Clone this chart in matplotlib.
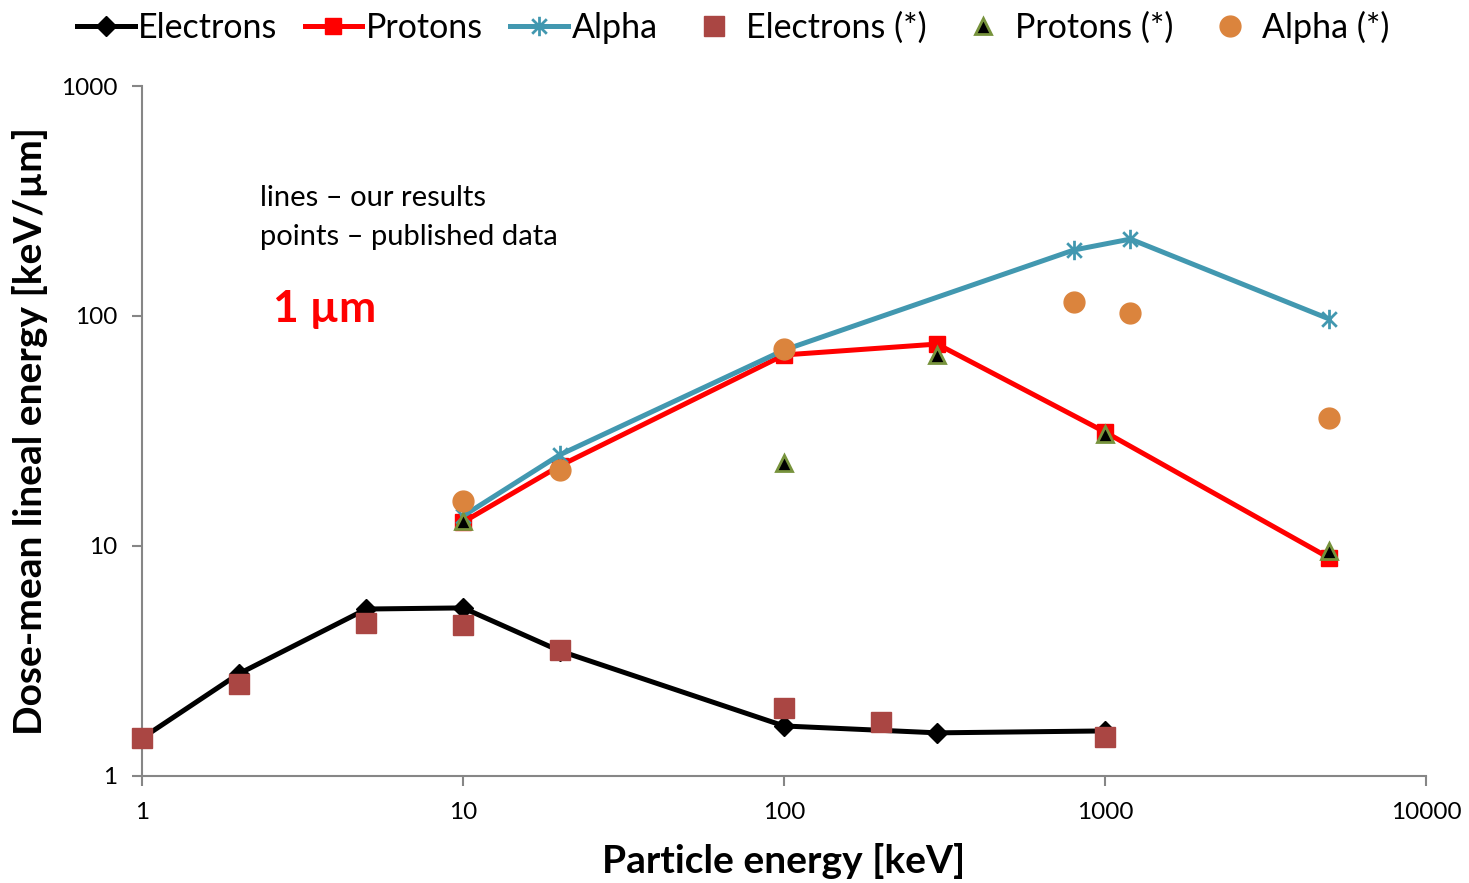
import matplotlib
matplotlib.use("Agg")
import matplotlib.pyplot as plt
from matplotlib.path import Path

plt.rcParams['font.family'] = ['Lato', 'DejaVu Sans']

# simulated results (lines)
e_x = [1, 2, 5, 10, 20, 100, 300, 1000]
e_y = [1.46, 2.78, 5.32, 5.38, 3.5, 1.65, 1.54, 1.57]
p_x = [10, 20, 100, 300, 1000, 5000]
p_y = [12.7, 22.3, 67.7, 75.5, 31.3, 8.87]
a_x = [10, 20, 100, 800, 1200, 5000]
a_y = [13.5, 24.9, 71.1, 193.6, 216, 97]

# published data (points)
pe_x = [1, 2, 5, 10, 20, 100, 200, 1000]
pe_y = [1.46, 2.51, 4.63, 4.53, 3.53, 1.98, 1.72, 1.48]
pp_x = [10, 100, 300, 1000, 5000]
pp_y = [12.8, 23.0, 67.7, 30.7, 9.5]
pa_x = [10, 20, 100, 800, 1200, 5000]
pa_y = [15.7, 21.4, 71.9, 115, 103, 36]

x_ticks = [1, 10, 100, 1000, 10000]
y_ticks = [1, 10, 100, 1000]

# asterisk-style marker: vertical bar plus an X
star = Path([(0, -1), (0, 1), (-0.75, -0.75), (0.75, 0.75), (-0.75, 0.75), (0.75, -0.75)],
            [Path.MOVETO, Path.LINETO, Path.MOVETO, Path.LINETO, Path.MOVETO, Path.LINETO])

fig = plt.figure(figsize=(14.69, 8.83), dpi=100)
ax = fig.add_axes([0.0967, 0.1212, 0.8740, 0.7814])

ax.plot(e_x, e_y, color='black', lw=3.6, marker='D', ms=10, label='Electrons', clip_on=False)
ax.plot(p_x, p_y, color='#FF0000', lw=3.6, marker='s', ms=12, label='Protons', clip_on=False)
ax.plot(a_x, a_y, color='#4298B0', lw=3.6, marker=star, ms=14, mew=2, label='Alpha',
        clip_on=False)

ax.plot(pe_x, pe_y, ls='none', marker='s', ms=14, color='#AA4643', label='Electrons (*)',
        clip_on=False)
ax.plot(pp_x, pp_y, ls='none', marker='^', ms=12, mfc='black', mec='#77933C', mew=2,
        label='Protons (*)', clip_on=False)
ax.plot(pa_x, pa_y, ls='none', marker='o', ms=15, color='#DB843D', label='Alpha (*)',
        clip_on=False)

ax.set_xscale('log')
ax.set_yscale('log')
ax.set_xlim(1, 10000)
ax.set_ylim(1, 1000)
ax.set_xticks(x_ticks)
ax.set_xticklabels([str(v) for v in x_ticks])
ax.set_yticks(y_ticks)
ax.set_yticklabels([str(v) for v in y_ticks])
ax.minorticks_off()

for s in ['top', 'right']:
    ax.spines[s].set_visible(False)
for s in ['left', 'bottom']:
    ax.spines[s].set_color('#868686')
    ax.spines[s].set_linewidth(1.5)
    ax.spines[s].set_zorder(0.5)
ax.tick_params(colors='#868686', width=1.5, length=7, labelsize=17.5, labelcolor='black')
ax.tick_params(axis='x', pad=12)
ax.tick_params(axis='y', pad=11)

ax.set_xlabel('Particle energy [keV]', fontsize=28, fontweight='bold', labelpad=14)
ax.set_ylabel('Dose-mean lineal energy [keV/µm]', fontsize=28, fontweight='bold')
ax.yaxis.set_label_coords(-0.073, 0.5)

ax.text(0.092, 0.856, 'lines – our results\npoints – published data', transform=ax.transAxes,
        fontsize=21, va='top', linespacing=1.58)
ax.text(0.102, 0.677, '1 µm', transform=ax.transAxes, color='#FF0000', fontsize=32,
        fontweight='bold', va='center')

fig.legend(loc='upper center', bbox_to_anchor=(0.499, 1.022), ncol=6, frameon=False,
           fontsize=24.5, handlelength=1.7, handletextpad=0.1, columnspacing=0.8)

fig.savefig('out.png', dpi=100)
